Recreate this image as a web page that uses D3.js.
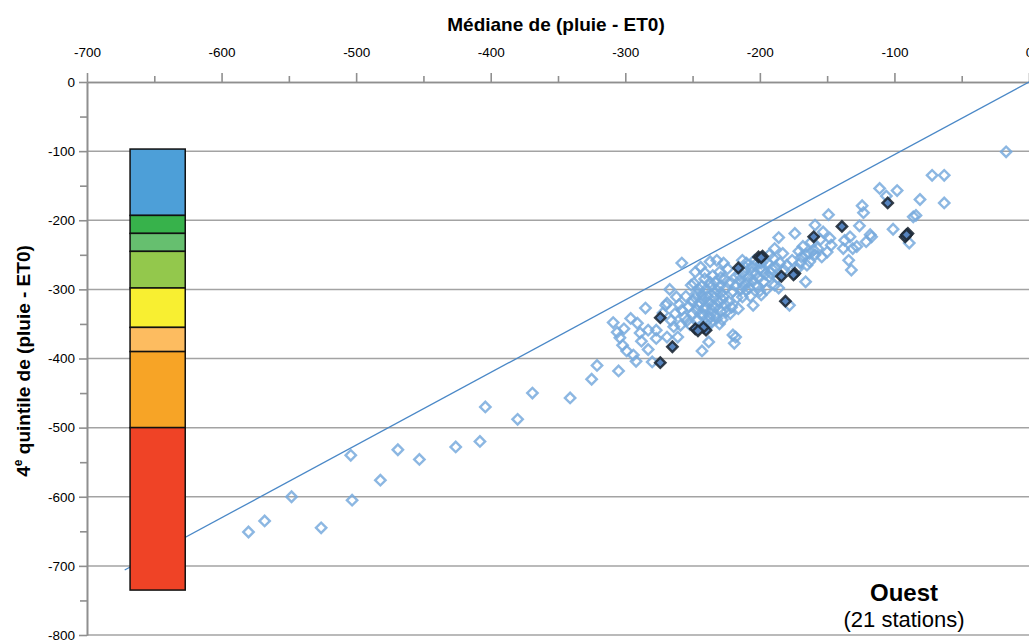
<!DOCTYPE html>
<html>
<head>
<meta charset="utf-8">
<script src="https://cdn.jsdelivr.net/npm/d3@7"></script>
<style>
  html, body { margin: 0; padding: 0; background: #fff; }
  svg { display: block; font-family: "Liberation Sans", Arial, sans-serif; }
</style>
</head>
<body>
<svg id="chart" width="1029" height="642"></svg>
<script>
// ---------- DATA ----------
const xTicks = [-700, -600, -500, -400, -300, -200, -100, 0];
const xMinorTicks = [-650, -550, -450, -350, -250, -150, -50];
const yTicks = [0, -100, -200, -300, -400, -500, -600, -700, -800];
const yMinorTicks = [-50, -150, -250, -350, -450, -550, -650, -750];

const xTitle = "Médiane de (pluie - ET0)";
const yTitleMain = "4";
const yTitleSup = "e";
const yTitleRest = " quintile de (pluie - ET0)";
const regionName = "Ouest";
const regionNote = "(21 stations)";

// colour scale bar (class limits, top to bottom) and its horizontal extent
const bandLimits = [-97, -193, -219, -245, -298, -355, -390, -500, -735];
const bandColors = ["#4d9fd8", "#37b24b", "#66bf6f", "#93c84c", "#f8ef31", "#fdbc60", "#f7a426", "#ef4326"];
const bandX = [-668, -627];

// reference line
const refLine = [[-672, -706], [0, 0]];

// all stations (x: median, y: 4th quintile)
const allPoints = [
  [-580,-651],[-568,-635],[-548,-600],[-526,-645],[-504,-540],[-503,-605],[-482,-576],[-469,-532],
  [-453,-546],[-426,-528],[-408,-520],[-404,-470],[-380,-488],[-369,-450],[-341,-457],[-325,-430],[-321,-410],
  [-309,-348],[-305,-418],[-301,-357],[-304,-370],[-302,-381],[-299,-389],[-306,-362],[-291,-349],
  [-289,-363],[-288,-375],[-283,-359],[-283,-387],[-292,-404],[-280,-405],[-285,-327],[-296,-342],[-294,-395],
  [-277,-359],[-277,-371],[-270,-323],[-263,-335],[-264,-354],[-269,-369],[-261,-369],[-256,-340],
  [-253,-325],[-251,-294],[-262,-311],[-269,-320],[-258,-262],[-266,-345],[-259,-352],[-272,-334],
  [-255,-310],[-250,-318],[-267,-300],[-252,-351],[-258,-330],[-254,-345],[-260,-322],[-248,-312],
  [-249,-291],[-247,-306],[-242,-315],[-235,-323],[-228,-315],[-247,-330],[-237,-340],[-228,-344],
  [-222,-335],[-246,-344],[-238,-376],[-243,-389],[-225,-332],[-233,-289],[-232,-301],[-223,-291],
  [-220,-303],[-237,-260],[-232,-258],[-227,-262],[-220,-366],[-219,-378],[-218,-369],[-244,-320],
  [-240,-325],[-236,-330],[-231,-318],[-239,-310],[-245,-300],[-241,-285],[-236,-296],[-229,-305],
  [-226,-322],[-233,-336],[-242,-338],[-230,-350],[-245,-355],[-234,-312],[-240,-300],[-226,-285],
  [-248,-275],[-244,-268],[-230,-275],[-224,-270],[-250,-335],[-236,-348],
  [-243,-308],[-238,-318],[-233,-326],[-229,-332],[-241,-330],[-246,-322],[-244,-336],[-239,-345],
  [-234,-305],[-230,-296],[-237,-290],[-243,-295],[-227,-310],[-223,-318],[-221,-326],[-232,-342],
  [-239,-352],[-225,-298],[-218,-282],[-229,-283],[-235,-280],[-241,-276],
  [-216,-328],[-215,-287],[-213,-258],[-213,-311],[-210,-301],[-206,-267],[-205,-323],[-199,-308],
  [-197,-289],[-194,-262],[-191,-270],[-189,-294],[-186,-298],[-189,-241],[-186,-225],[-183,-248],
  [-180,-265],[-178,-323],[-212,-275],[-208,-282],[-203,-278],[-200,-270],[-196,-278],[-218,-295],
  [-214,-300],[-210,-262],[-204,-258],[-199,-262],[-193,-250],[-209,-290],[-202,-295],[-195,-300],
  [-185,-262],[-182,-272],[-207,-310],[-217,-312],[-190,-255],
  [-211,-268],[-206,-276],[-201,-284],[-198,-272],[-193,-282],[-205,-288],[-212,-294],[-197,-258],
  [-188,-268],[-192,-276],[-203,-264],[-215,-280],[-208,-298],[-200,-302],[-187,-284],
  [-174,-219],[-168,-238],[-169,-253],[-163,-260],[-159,-250],[-166,-289],[-171,-245],[-166,-250],
  [-165,-265],[-160,-243],[-157,-241],[-154,-253],[-150,-246],[-147,-236],[-159,-207],[-153,-217],
  [-148,-226],[-149,-192],[-176,-258],[-172,-270],[-162,-232],[-155,-228],[-170,-262],[-163,-248],
  [-137,-229],[-133,-224],[-138,-241],[-131,-241],[-128,-238],[-134,-258],[-132,-272],[-126,-208],
  [-124,-179],[-123,-189],[-118,-221],[-117,-224],[-121,-231],[-111,-154],[-106,-165],[-101,-213],[-98,-157],
  [-89,-233],[-86,-195],[-84,-193],[-81,-170],[-72,-135],[-63,-135],[-63,-175],[-17,-101]
];

// the 21 stations of the region (highlighted)
const regionPoints = [
  [-274,-406],[-265,-383],[-274,-341],[-248,-357],[-240,-359],[-242,-355],[-216,-269],
  [-201,-253],[-198,-252],[-184,-281],[-174,-277],[-181,-317],[-160,-224],[-139,-209],
  [-105,-175],[-90,-219],[-92,-224],[-91,-221],[-199,-254],[-246,-360],[-175,-279]
];

// ---------- CHART ----------
const svg = d3.select("#chart");
const x = d3.scaleLinear().domain([-700, 0]).range([87, 1029]);
const y = d3.scaleLinear().domain([0, -800]).range([82, 635]);
const gridColor = "#a3a3a3";
const fmt = d => String(d);

// horizontal gridlines
svg.append("g").selectAll("line")
  .data(yTicks.filter(d => d !== 0))
  .join("line")
  .attr("x1", x(-700)).attr("x2", 1029)
  .attr("y1", d => y(d)).attr("y2", d => y(d))
  .attr("stroke", gridColor).attr("stroke-width", 1.5);

// top axis (major + minor)
svg.append("g").attr("transform", `translate(0,${y(0)})`)
  .call(d3.axisTop(x).tickValues(xTicks).tickSize(9).tickSizeOuter(0).tickPadding(16).tickFormat(fmt));
svg.append("g").attr("transform", `translate(0,${y(0)})`)
  .call(d3.axisTop(x).tickValues(xMinorTicks).tickSize(6).tickSizeOuter(0).tickFormat(""));

// left axis (major + minor)
svg.append("g").attr("transform", `translate(${x(-700)},0)`)
  .call(d3.axisLeft(y).tickValues(yTicks).tickSize(8).tickSizeOuter(0).tickPadding(4).tickFormat(fmt));
svg.append("g").attr("transform", `translate(${x(-700)},0)`)
  .call(d3.axisLeft(y).tickValues(yMinorTicks).tickSize(7).tickSizeOuter(0).tickFormat(""));

svg.selectAll(".domain").attr("stroke", "#8f8f8f").attr("stroke-width", 1.6);
svg.selectAll(".tick line").attr("stroke", "#8f8f8f").attr("stroke-width", 1.6);
svg.selectAll(".tick text").attr("fill", "#000").attr("font-size", "13.5px")
  .attr("font-family", "'Liberation Sans', Arial, sans-serif");

// axis titles
svg.append("text")
  .attr("x", 556).attr("y", 31)
  .attr("text-anchor", "middle")
  .attr("font-size", "19px").attr("font-weight", "bold")
  .text(xTitle);

const yt = svg.append("text")
  .attr("transform", "translate(30,361) rotate(-90)")
  .attr("text-anchor", "middle")
  .attr("font-size", "19px").attr("font-weight", "bold");
yt.append("tspan").text(yTitleMain);
yt.append("tspan").attr("font-size", "12px").attr("dy", "-8").text(yTitleSup);
yt.append("tspan").attr("dy", "8").text(yTitleRest);

// reference line
svg.append("path")
  .datum(refLine)
  .attr("d", d3.line().x(d => x(d[0])).y(d => y(d[1])))
  .attr("fill", "none").attr("stroke", "#4a88c7").attr("stroke-width", 1.3);

// colour scale bar
const bands = bandColors.map((c, i) => ({ top: bandLimits[i], bottom: bandLimits[i + 1], color: c }));
svg.append("g").selectAll("rect")
  .data(bands)
  .join("rect")
  .attr("x", x(bandX[0]))
  .attr("width", x(bandX[1]) - x(bandX[0]))
  .attr("y", d => y(d.top))
  .attr("height", d => y(d.bottom) - y(d.top))
  .attr("fill", d => d.color)
  .attr("stroke", "#111").attr("stroke-width", 1.5);

// points
const diamond = d3.symbol().type(d3.symbolSquare).size(54);
svg.append("g").selectAll("path")
  .data(allPoints)
  .join("path")
  .attr("d", diamond)
  .attr("transform", d => `translate(${x(d[0])},${y(d[1])}) rotate(45)`)
  .attr("fill", "none")
  .attr("stroke", "#78aadd")
  .attr("stroke-opacity", 0.85)
  .attr("stroke-width", 2.4);

svg.append("g").selectAll("path")
  .data(regionPoints)
  .join("path")
  .attr("d", diamond)
  .attr("transform", d => `translate(${x(d[0])},${y(d[1])}) rotate(45)`)
  .attr("fill", "#5684bf")
  .attr("stroke", "#1f2a36")
  .attr("stroke-opacity", 0.9)
  .attr("stroke-width", 2.4);

// region label
svg.append("text")
  .attr("x", 904).attr("y", 601)
  .attr("text-anchor", "middle")
  .attr("font-size", "24px").attr("font-weight", "bold")
  .text(regionName);
svg.append("text")
  .attr("x", 904).attr("y", 627)
  .attr("text-anchor", "middle")
  .attr("font-size", "22px")
  .text(regionNote);
</script>
</body>
</html>
